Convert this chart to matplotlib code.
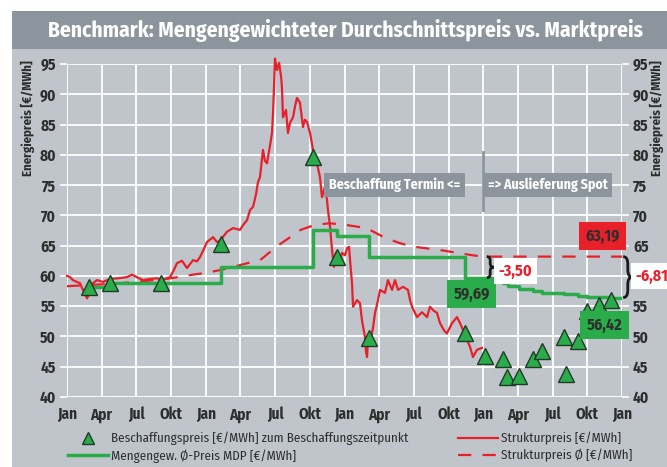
import matplotlib
matplotlib.use('Agg')
import matplotlib.pyplot as plt
from matplotlib.path import Path
from matplotlib.patches import PathPatch, Rectangle
from matplotlib.lines import Line2D

# x values are months since Jan of the first year (0 .. 48)
red_m = [0.0, 0.26, 0.52, 0.86, 1.12, 1.30, 1.56, 1.73, 1.99, 2.25, 2.59, 3.11, 3.72, 4.41,
         5.19, 5.62, 6.14, 6.57, 7.18, 7.78, 8.30, 8.91, 9.25, 9.51, 9.95, 10.38, 10.90, 11.24,
         11.50, 11.85, 12.11, 12.63, 12.97, 13.23, 13.84, 14.36, 14.96, 15.31, 15.57, 15.83,
         16.09, 16.35, 16.52, 16.69, 16.95, 17.12, 17.30, 17.38, 17.56, 17.73, 17.82, 17.90,
         17.99, 18.16, 18.34, 18.51, 18.59, 18.68, 18.94, 19.11, 19.29, 19.55, 19.72, 19.89,
         20.15, 20.41, 20.58, 20.76, 21.02, 21.28, 21.62, 21.88, 22.05, 22.31, 22.49, 22.57,
         22.75, 22.92, 23.09, 23.27, 23.53, 23.79, 24.04, 24.22, 24.39, 24.48, 24.65, 24.74,
         25.08, 25.34, 25.51, 25.77, 25.86, 25.95, 26.03, 26.21, 26.47, 26.64, 26.90, 27.07,
         27.50, 27.76, 28.11, 28.37, 28.63, 29.06, 29.49, 29.67, 29.84, 30.27, 30.70, 31.14,
         31.39, 31.74, 32.00, 32.26, 32.61, 32.86, 33.30, 33.73, 33.99, 34.25, 34.59, 34.85,
         35.11, 35.46, 35.89]
red_v = [60.0, 59.8, 59.3, 59.0, 58.8, 58.0, 57.0, 56.3, 57.3, 58.8, 59.3, 59.0, 59.5, 59.6,
         59.8, 60.2, 59.7, 59.3, 59.5, 59.6, 59.4, 59.8, 61.0, 62.1, 62.5, 61.3, 62.6, 62.4,
         63.1, 64.5, 65.6, 66.4, 65.6, 65.8, 67.3, 67.9, 67.6, 68.6, 69.2, 70.9,
         71.4, 73.5, 75.5, 76.3, 80.8, 79.0, 78.6, 79.6, 81.5, 83.6, 86.9, 91.0,
         95.9, 94.0, 95.2, 93.0, 91.2, 86.2, 87.4, 83.6, 85.3, 86.2, 88.0, 89.4,
         88.6, 84.6, 85.8, 85.4, 83.6, 80.8, 78.6, 76.3, 73.0, 74.7, 72.5, 70.9,
         68.1, 64.3, 61.5, 63.8, 62.0, 63.8, 63.4, 64.6, 64.8, 62.6, 58.8, 54.9,
         56.0, 55.5, 52.7, 49.9, 47.5, 46.6, 49.4, 48.9, 51.5, 53.9, 56.0, 57.7,
         57.2, 59.3, 57.7, 59.3, 57.7, 58.2, 57.7, 56.0, 54.9, 53.2, 54.0, 53.2,
         54.9, 54.2, 53.9, 52.2, 51.0, 50.5, 52.2, 53.2, 52.2, 51.1, 49.5, 48.3,
         46.6, 47.8, 48.1]

avg_m = [0, 3, 6, 8.6, 11.2, 12.1, 14, 15.6, 16.7, 18.1, 19.3, 20.2, 21.4, 22.7, 24.2,
         25.9, 27.2, 28.5, 29.7, 32.5, 35.1, 36, 48]
avg_v = [58.3, 58.6, 59.0, 59.5, 60.3, 60.5, 61.3, 62.1, 62.6, 64.8, 66.4, 67.6, 68.4, 68.7, 68.4,
         67.9, 66.6, 65.6, 64.9, 64.2, 63.4, 63.19, 63.19]

mdp_m = [2.0, 3.72, 13.32, 21.28, 23.35, 26.1, 34.42, 37.7, 38.1, 39.1, 40.3, 41.1, 43.0,
         44.2, 45.0, 46.0, 47.0, 48.0]
mdp_v = [58.2, 58.8, 61.5, 67.6, 66.6, 63.2, 59.69, 58.9, 58.4, 57.9, 57.5, 57.2, 57.0,
         56.6, 56.5, 56.45, 56.42, 56.42]

buy_m = [1.9, 3.72, 8.13, 13.32, 21.28, 23.35, 26.12, 34.42, 36.15, 37.71, 38.05, 39.09,
         40.30, 41.08, 42.98, 43.16, 44.19, 44.97, 46.01, 47.05]
buy_v = [58.2, 58.9, 58.9, 65.3, 79.6, 63.1, 49.7, 50.6, 46.8, 46.3, 43.3, 43.5,
         46.3, 47.6, 49.9, 43.8, 49.2, 54.2, 55.2, 56.0]

month_ticks = list(range(0, 49, 3))
month_labels = ['Jan', 'Apr', 'Jul', 'Okt'] * 4 + ['Jan']

plt.rcParams['font.family'] = ['Fira Sans Condensed', 'DejaVu Sans']

panel = '#bfc5cb'
bar = '#8c959d'
red = '#e8202a'
green = '#2bac4a'
dark = '#2e2e2e'

fig = plt.figure(figsize=(6.67, 4.67), dpi=100)
fig.patches.append(Rectangle((12 / 667, 0), 1, 1 - 49 / 467, transform=fig.transFigure,
                             fc=panel, ec='none', zorder=-5))
fig.patches.append(Rectangle((12 / 667, 1 - 49 / 467), 1, 38 / 467, transform=fig.transFigure,
                             fc=bar, ec='none', zorder=-5))
fig.text(0.518, 1 - 30 / 467, 'Benchmark: Mengengewichteter Durchschnittspreis vs. Marktpreis',
         ha='center', va='center', color='white', fontsize=15.5, fontweight='bold')

ax1 = fig.add_axes([67 / 667, 1 - 397 / 467, 555 / 667, 333 / 467])
ax1.set_facecolor('none')
ax1.set_xlim(0, 48)
ax1.set_ylim(40, 95)
for s in ax1.spines.values():
    s.set_visible(False)
ax1.set_yticks(range(40, 96, 5))
ax1.set_xticks(month_ticks)
ax1.set_xticklabels(month_labels)
ax1.grid(True, color='white', lw=1.3, zorder=0)
ax1.set_axisbelow(True)
ax1.tick_params(axis='y', length=5, width=1.2, color='white', labelcolor=dark,
                labelsize=11, pad=3, right=True, labelright=True)
ax1.tick_params(axis='x', length=0, labelcolor=dark, labelsize=11, pad=7)
for lab in ax1.get_xticklabels():
    lab.set_fontweight('bold')
for t in ax1.yaxis.get_major_ticks():
    t.label1.set_fontweight('bold')
    t.label2.set_fontweight('bold')

# axis titles sit at the top of both sides
ax1.text(-0.070, 1.012, 'Energiepreis [€/MWh]', transform=ax1.transAxes, rotation=90,
         ha='center', va='top', fontsize=9.2, fontweight='bold', color=dark)
ax1.text(1.063, 1.012, 'Energiepreis [€/MWh]', transform=ax1.transAxes, rotation=90,
         ha='center', va='top', fontsize=9.2, fontweight='bold', color=dark)

ax1.plot(avg_m, avg_v, color=red, lw=1.6, dashes=(6, 5), zorder=2)
ax1.plot(red_m, red_v, color=red, lw=1.6, zorder=3, clip_on=False)
ax1.plot(mdp_m, mdp_v, color=green, lw=2.5, drawstyle='steps-post', zorder=4)
ax1.plot(buy_m, buy_v, ls='none', marker='^', ms=11, mfc=green, mec='#1f3b26', mew=1.0,
         zorder=5)

# divider between forward procurement and spot delivery
ax1.plot([36, 36], [70.9, 80.5], color=bar, lw=2, zorder=6)
ax1.text(34.0, 75, 'Beschaffung Termin <=', ha='right', va='center', color='white',
         fontsize=10, fontweight='bold', zorder=7,
         bbox=dict(boxstyle='square,pad=0.35', fc=bar, ec='none'))
ax1.text(36.4, 75, '=> Auslieferung Spot', ha='left', va='center', color='white',
         fontsize=10, fontweight='bold', zorder=7,
         bbox=dict(boxstyle='square,pad=0.35', fc=bar, ec='none'))


def brace(ax, x0, w, yt, yb):
    ym = (yt + yb) / 2
    d = (yt - yb) * 0.18
    xm = x0 + w / 2
    verts = [(x0, yt), (xm, yt), (xm, yt - d), (xm, ym + d), (xm, ym), (x0 + w, ym),
             (xm, ym), (xm, ym - d), (xm, yb + d), (xm, yb), (x0, yb)]
    codes = [Path.MOVETO, Path.CURVE3, Path.CURVE3, Path.LINETO, Path.CURVE3, Path.CURVE3,
             Path.CURVE3, Path.CURVE3, Path.LINETO, Path.CURVE3, Path.CURVE3]
    ax.add_patch(PathPatch(Path(verts, codes), fill=False, ec='#1a1a1a', lw=2,
                           clip_on=False, zorder=8))


brace(ax1, 36.3, 0.6, 63.19, 59.69)
brace(ax1, 48.1, 0.8, 63.19, 56.42)

ax1.text(46.3, 66.6, '63,19', ha='center', va='center', fontsize=11.5, fontweight='bold',
         color=dark, zorder=9, bbox=dict(boxstyle='square,pad=0.4', fc=red, ec='none'))
ax1.text(35.0, 57.0, '59,69', ha='center', va='center', fontsize=11.5, fontweight='bold',
         color=dark, zorder=9, bbox=dict(boxstyle='square,pad=0.4', fc=green, ec='none'))
ax1.text(46.5, 51.9, '56,42', ha='center', va='center', fontsize=11.5, fontweight='bold',
         color=dark, zorder=9, bbox=dict(boxstyle='square,pad=0.4', fc=green, ec='none'))
ax1.text(38.8, 60.8, '-3,50', ha='center', va='center', fontsize=11.5, fontweight='bold',
         color=red, zorder=9, bbox=dict(boxstyle='square,pad=0.3', fc='white', ec='none'))
ax1.text(49.2, 60.0, '-6,81', ha='left', va='center', fontsize=11.5, fontweight='bold',
         color=red, zorder=9, clip_on=False,
         bbox=dict(boxstyle='square,pad=0.3', fc='white', ec='none'))

handles = [
    Line2D([], [], ls='none', marker='^', ms=9, mfc=green, mec='#1f3b26'),
    Line2D([], [], color=green, lw=2.5),
    Line2D([], [], color=red, lw=1.6),
    Line2D([], [], color=red, lw=1.6, dashes=(6, 5)),
]
labels = ['Beschaffungspreis [€/MWh] zum Beschaffungszeitpunkt',
          'Mengengew. Ø-Preis MDP [€/MWh]',
          'Strukturpreis [€/MWh]',
          'Strukturpreis Ø [€/MWh]']
fig.legend(handles, labels, ncol=2, loc='upper left', bbox_to_anchor=(56 / 667, 1 - 420 / 467),
           frameon=False, fontsize=9.4, handlelength=3.1, handletextpad=0.2,
           columnspacing=3.8, labelspacing=0.3, labelcolor=dark)

fig.savefig('out.png', dpi=100)
